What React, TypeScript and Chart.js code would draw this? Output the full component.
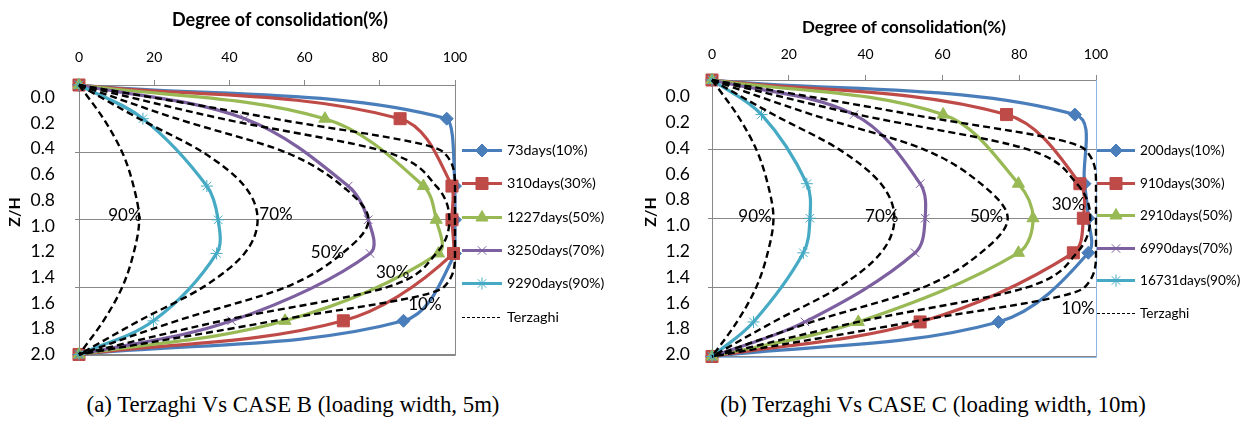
import React, { useEffect, useRef } from 'react';
import { Chart, registerables } from 'chart.js';
import { drawPoint } from 'chart.js/helpers';

Chart.register(...registerables);
Chart.defaults.font.family = "Lato, 'Open Sans', sans-serif";
Chart.defaults.color = '#000';

// ---------------- data ----------------
const zhMeasured = [0, 0.25, 0.75, 1.0, 1.25, 1.75, 2.0];
const zhTerzaghi = [0, 0.25, 0.5, 0.75, 1.0, 1.25, 1.5, 1.75, 2.0];
const xTickValues = [0, 20, 40, 60, 80, 100];
const zhTickValues = [0, 0.2, 0.4, 0.6, 0.8, 1.0, 1.2, 1.4, 1.6, 1.8, 2.0];
const zhGridValues = [0, 0.5, 1.0, 1.5, 2.0];

const caseBLabels = ['73days(10%)', '310days(30%)', '1227days(50%)', '3250days(70%)', '9290days(90%)'];
const caseBDays73 = [0, 97.8, 100, 100, 100, 86.3, 0];
const caseBDays310 = [0, 85.4, 99.2, 99.2, 99.6, 70.3, 0];
const caseBDays1227 = [0, 65.4, 91.6, 95.0, 95.6, 54.8, 0];
const caseBDays3250 = [0, 44.1, 71.6, 76.9, 77.4, 40.6, 0];
const caseBDays9290 = [0, 17.0, 34.0, 37.0, 36.6, 19.8, 0];

const caseCLabels = ['200days(10%)', '910days(30%)', '2910days(50%)', '6990days(70%)', '16731days(90%)'];
const caseCDays200 = [0, 94.5, 97.0, 98.0, 98.0, 74.6, 0];
const caseCDays910 = [0, 76.7, 95.8, 96.7, 94.1, 54.2, 0];
const caseCDays2910 = [0, 60.2, 79.8, 83.6, 79.8, 38.1, 0];
const caseCDays6990 = [0, 37.0, 54.2, 55.5, 52.9, 24.2, 0];
const caseCDays16731 = [0, 12.9, 24.7, 25.5, 23.8, 10.8, 0];

const terzaghiLegend = 'Terzaghi';
const terzaghiPercent = ['10%', '30%', '50%', '70%', '90%'];
const terzaghi10 = [0, 52, 97, 100, 100, 100, 97, 52, 0];
const terzaghi30 = [0, 38, 82, 95, 98.5, 95, 82, 38, 0];
const terzaghi50 = [0, 26, 55, 70, 77, 70, 55, 26, 0];
const terzaghi70 = [0, 16, 33, 44, 47.5, 44, 33, 16, 0];
const terzaghi90 = [0, 6.5, 11.5, 14.5, 16, 14.5, 11.5, 6.5, 0];

// where the percentage labels sit, in data units (x %, Z/H)
const caseBPctLabelX = [92.0, 83.4, 66.1, 52.4, 12.2];
const caseBPctLabelZ = [1.63, 1.39, 1.245, 0.96, 0.97];
const caseCPctLabelX = [95.3, 92.8, 71.5, 44.2, 11.2];
const caseCPctLabelZ = [1.65, 0.90, 0.99, 0.99, 0.99];

const xTitle = 'Degree of consolidation(%)';
const yTitle = 'Z/H';
const captionB = '(a) Terzaghi Vs CASE B (loading width, 5m)';
const captionC = '(b) Terzaghi Vs CASE C (loading width, 10m)';

// ---------------- styles ----------------
const seriesColors = ['#4A7EBB', '#BE4B48', '#98B954', '#7D60A0', '#46AAC5'];
const markerStyles = ['rectRot', 'rect', 'triangle', 'crossRot', 'star'];
const markerRadius = [6.5, 8.5, 7, 6, 6];
const GRID = '#888888';

const overlayPlugin = {
  id: 'overlay',
  beforeDatasetsDraw(chart: any, _a: any, o: any) {
    const { ctx, chartArea } = chart;
    ctx.save();
    ctx.strokeStyle = o.frameColor;
    ctx.lineWidth = 1;
    const r = Math.round(chartArea.right) + 0.5;
    const b = Math.round(chartArea.bottom) + 0.5;
    ctx.beginPath();
    ctx.moveTo(r, chartArea.top);
    ctx.lineTo(r, b);
    ctx.lineTo(chartArea.left, b);
    ctx.stroke();
    ctx.restore();
  },
  afterDraw(chart: any, _a: any, o: any) {
    const { ctx, chartArea, scales } = chart;
    ctx.save();
    // axis titles
    ctx.fillStyle = '#000';
    ctx.font = `bold ${o.xTitleSize}px Lato`;
    ctx.textAlign = 'center';
    ctx.textBaseline = 'middle';
    ctx.fillText(o.xTitle, o.xTitleX, o.xTitleY);
    ctx.save();
    ctx.translate(o.yTitleX, o.yTitleY);
    ctx.rotate(-Math.PI / 2);
    ctx.font = "bold 16px Lato";
    ctx.fillText(o.yTitle, 0, 0);
    ctx.restore();
    // percentage labels on Terzaghi curves
    ctx.font = "17px Lato";
    const texts: string[] = o.pctText;
    texts.forEach((t: string, i: number) => {
      const px = scales.x.getPixelForValue(o.pctX[i]);
      const py = scales.y.getPixelForValue(o.pctZ[i]);
      ctx.fillText(t, px, py);
    });
    // legend
    const ds = chart.data.datasets as any[];
    let row = 0;
    ds.forEach((d) => {
      if (!d.label) return;
      const y = Math.round(chartArea.top + o.legendTop + row * o.legendGap) + 0.5;
      const x0 = chartArea.right + o.legendLeft;
      const x1 = x0 + o.legendLine;
      ctx.save();
      ctx.strokeStyle = d.borderColor;
      if (d.borderDash) {
        ctx.lineWidth = 1;
        ctx.setLineDash([3, 2]);
      } else {
        ctx.lineWidth = d.borderWidth;
      }
      ctx.beginPath();
      ctx.moveTo(x0, y);
      ctx.lineTo(x1, y);
      ctx.stroke();
      ctx.setLineDash([]);
      if (d.pointRadius > 0) {
        ctx.fillStyle = d.pointBackgroundColor;
        ctx.strokeStyle = d.pointBorderColor;
        ctx.lineWidth = d.pointBorderWidth;
        drawPoint(ctx, { pointStyle: d.pointStyle, radius: d.pointRadius, borderWidth: d.pointBorderWidth, rotation: 0 } as any, (x0 + x1) / 2, y);
      }
      ctx.fillStyle = '#000';
      ctx.font = `${o.legendFont}px Lato`;
      ctx.textAlign = 'left';
      ctx.textBaseline = 'middle';
      ctx.fillText(d.label, x1 + 5, y);
      ctx.restore();
      row++;
    });
    ctx.restore();
  },
};

interface PanelSpec {
  width: number;
  height: number;
  areaLeft: number;
  areaTop: number;
  areaRight: number;
  areaBottom: number;
  labelMin: number;
  labelMax: number;
  labelPad: number;
  tickPad: number;
  labels: string[];
  series: number[][];
  pctX: number[];
  pctZ: number[];
  overlay: any;
}

function buildConfig(p: PanelSpec): any {
  const coloured = p.series.map((vals, i) => ({
    label: p.labels[i],
    data: vals.map((v, k) => ({ x: v, y: zhMeasured[k] })),
    borderColor: seriesColors[i],
    backgroundColor: seriesColors[i],
    borderWidth: 3.2,
    tension: 0.35,
    pointStyle: markerStyles[i],
    pointRadius: markerRadius[i],
    pointBackgroundColor: seriesColors[i],
    pointBorderColor: seriesColors[i],
    pointBorderWidth: 1,
    clip: 12,
    xAxisID: 'x',
    yAxisID: 'y',
  }));
  const terz = [terzaghi10, terzaghi30, terzaghi50, terzaghi70, terzaghi90].map((vals, i) => ({
    label: i === 0 ? terzaghiLegend : '',
    data: vals.map((v, k) => ({ x: v, y: zhTerzaghi[k] })),
    borderColor: '#000',
    backgroundColor: '#000',
    borderWidth: 2.4,
    borderDash: [7, 4],
    cubicInterpolationMode: 'monotone',
    pointRadius: 0,
    clip: 4,
    xAxisID: 'x',
    yAxisID: 'y',
  }));
  const all = [...coloured, ...terz].map((d, i, arr) => ({ ...d, order: arr.length - 1 - i }));
  return {
    type: 'line',
    data: { datasets: all },
    plugins: [overlayPlugin],
    options: {
      responsive: false,
      animation: false,
      devicePixelRatio: 1,
      indexAxis: 'y',
      layout: {
        padding: { left: 0, top: 0, right: p.width - p.areaRight, bottom: p.height - p.areaBottom },
      },
      plugins: {
        legend: { display: false },
        tooltip: { enabled: false },
        overlay: { ...p.overlay, pctText: terzaghiPercent, pctX: p.pctX, pctZ: p.pctZ },
      },
      scales: {
        x: {
          type: 'linear',
          position: 'top',
          min: 0,
          max: 100,
          afterBuildTicks: (s: any) => { s.ticks = xTickValues.map((v) => ({ value: v })); },
          afterFit: (s: any) => { s.height = p.areaTop; },
          ticks: { autoSkip: false, font: { size: 14 }, color: '#000', padding: p.tickPad, maxRotation: 0 },
          grid: { drawOnChartArea: false, drawTicks: true, tickLength: 5, color: GRID },
          border: { color: GRID },
        },
        y: {
          type: 'linear',
          position: 'left',
          reverse: true,
          min: 0,
          max: 2,
          afterBuildTicks: (s: any) => { s.ticks = zhGridValues.map((v) => ({ value: v })); },
          afterFit: (s: any) => { s.width = 4; },
          ticks: { display: false },
          grid: { color: GRID, tickLength: 4, drawTicks: true },
          border: { color: GRID },
        },
        yl: {
          type: 'linear',
          position: 'left',
          reverse: true,
          min: p.labelMin,
          max: p.labelMax,
          afterBuildTicks: (s: any) => { s.ticks = zhTickValues.map((v) => ({ value: v })); },
          afterFit: (s: any) => { s.width = p.areaLeft - 4; },
          ticks: {
            autoSkip: false,
            font: { size: 17.5 },
            color: '#000',
            padding: p.labelPad,
            callback: (v: any) => Number(v).toFixed(1),
          },
          grid: { display: false, drawTicks: false },
          border: { display: false },
        },
      },
    },
  };
}

function Panel({ spec, left }: { spec: PanelSpec; left: number }) {
  const ref = useRef<HTMLCanvasElement | null>(null);
  useEffect(() => {
    if (!ref.current) return;
    const chart = new Chart(ref.current, buildConfig(spec));
    return () => chart.destroy();
  }, []);
  return (
    <canvas
      ref={ref}
      width={spec.width}
      height={spec.height}
      style={{ position: 'absolute', left, top: 0, width: spec.width, height: spec.height, display: 'block' }}
    />
  );
}

const panelB: PanelSpec = {
  width: 625,
  height: 385,
  areaLeft: 79,
  areaTop: 85,
  areaRight: 455,
  areaBottom: 370,
  labelMin: -0.0956,
  labelMax: 2.0,
  labelPad: 20,
  tickPad: 14,
  labels: caseBLabels,
  series: [caseBDays73, caseBDays310, caseBDays1227, caseBDays3250, caseBDays9290],
  pctX: caseBPctLabelX,
  pctZ: caseBPctLabelZ,
  overlay: {
    frameColor: GRID,
    xTitle, yTitle,
    xTitleX: 280, xTitleY: 20, xTitleSize: 18,
    yTitleX: 15, yTitleY: 212,
    legendTop: 65, legendGap: 33.3, legendLeft: 7, legendLine: 40, legendFont: 14.3,
  },
};

const panelC: PanelSpec = {
  width: 615,
  height: 385,
  areaLeft: 79,
  areaTop: 80,
  areaRight: 463,
  areaBottom: 365,
  labelMin: -0.1278,
  labelMax: 2.015,
  labelPad: 18,
  tickPad: 12,
  labels: caseCLabels,
  series: [caseCDays200, caseCDays910, caseCDays2910, caseCDays6990, caseCDays16731],
  pctX: caseCPctLabelX,
  pctZ: caseCPctLabelZ,
  overlay: {
    frameColor: '#8EB4E3',
    xTitle, yTitle,
    xTitleX: 271, xTitleY: 28, xTitleSize: 17,
    yTitleX: 18, yTitleY: 212,
    legendTop: 70, legendGap: 32.5, legendLeft: 1, legendLine: 38, legendFont: 13.6,
  },
};

const captionStyle: React.CSSProperties = {
  position: 'absolute',
  top: 391,
  fontFamily: "'Liberation Serif', 'Times New Roman', serif",
  fontSize: 22.8,
  lineHeight: '28px',
  whiteSpace: 'nowrap',
  transform: 'translateX(-50%)',
  color: '#000',
};

export default function App() {
  return (
    <div style={{ position: 'absolute', left: 0, top: 0, width: 1248, height: 421, background: '#fff', overflow: 'hidden' }}>
      <Panel spec={panelB} left={0} />
      <Panel spec={panelC} left={633} />
      <div style={{ ...captionStyle, left: 293 }}>{captionB}</div>
      <div style={{ ...captionStyle, left: 933 }}>{captionC}</div>
    </div>
  );
}
